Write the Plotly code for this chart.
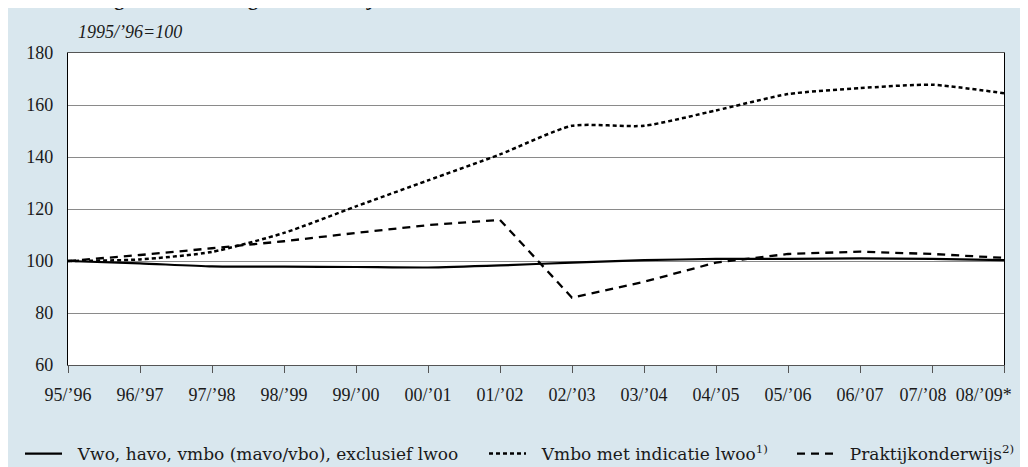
import plotly.graph_objects as go

categories = ["95/’96", "96/’97", "97/’98", "98/’99", "99/’00", "00/’01", "01/’02",
              "02/’03", "03/’04", "04/’05", "05/’06", "06/’07", "07/’08", "08/’09*"]

vwo_havo_vmbo = [100, 99.1, 97.9, 97.8, 97.7, 97.5, 98.3, 99.4, 100.3, 100.8, 100.8, 101.0, 100.8, 100.3]
vmbo_lwoo = [100, 100.6, 103.5, 110.8, 121, 131, 141, 152, 152, 157.9, 164.2, 166.5, 167.8, 164.5]
praktijk = [100, 102.3, 104.9, 107.6, 110.8, 113.8, 115.8, 85.9, 92.0, 99.4, 102.7, 103.6, 102.7, 101.2]

names = ["Vwo, havo, vmbo (mavo/vbo), exclusief lwoo",
         "Vmbo met indicatie lwoo<sup>1)</sup>",
         "Praktijkonderwijs<sup>2)</sup>"]

y_ticks = [60, 80, 100, 120, 140, 160, 180]

FONT = "Liberation Serif"
LEG_FONT = "DejaVu Serif"
BG = "#d9e7ee"
TXT = "#1a1a1a"
W, H = 1028, 467
ML, MR, MT, MB = 60, 32, 45, 110
PW, PH = W - ML - MR, H - MT - MB
PAD = "\u00a0\u00a0"
NB = "\u00a0"

# the last two labels sit a little to the left (kept inside the frame), as in the source
tick_text = list(categories)
tick_text[-2] = tick_text[-2] + NB * 4
tick_text[-1] = tick_text[-1] + NB * 9

fig = go.Figure()
fig.add_trace(go.Scatter(x=categories, y=vwo_havo_vmbo, name=PAD + names[0], mode="lines",
                         line=dict(color="#000000", width=2.2, shape="spline", smoothing=0.6),
                         legend="legend"))
fig.add_trace(go.Scatter(x=categories, y=vmbo_lwoo, name=PAD + names[1], mode="lines",
                         line=dict(color="#000000", width=2.5, dash="4px,3px", shape="spline", smoothing=0.6),
                         legend="legend2"))
fig.add_trace(go.Scatter(x=categories, y=praktijk, name=PAD + names[2], mode="lines",
                         line=dict(color="#000000", width=2.3, dash="8px,6px"),
                         legend="legend3"))

def px_x(px):
    return (px - ML) / PW

def px_y(py):
    return (H - MB - py) / PH

def cx(px):
    return px / W

def cy(py):
    return 1 - py / H

leg_common = dict(orientation="h", bgcolor="rgba(0,0,0,0)", borderwidth=0,
                  font=dict(family=LEG_FONT, size=17, color=TXT),
                  xref="container", yref="container", itemwidth=37,
                  xanchor="left", yanchor="middle", traceorder="normal")

fig.update_layout(
    width=W, height=H,
    margin=dict(l=ML, r=MR, t=MT, b=MB, autoexpand=False),
    paper_bgcolor=BG,
    plot_bgcolor="#ffffff",
    font=dict(family=FONT, size=18, color=TXT),
    xaxis=dict(type="category", range=[0, len(categories) - 1],
               tickmode="array", tickvals=categories, ticktext=tick_text, tickangle=0,
               showgrid=False, showline=True, linecolor="#555555", linewidth=1.3, mirror=True,
               ticks="outside", ticklen=7, tickcolor="#555555", tickwidth=1.3,
               tickfont=dict(family=FONT, size=18, color=TXT),
               ticklabelstandoff=6, zeroline=False, fixedrange=True),
    yaxis=dict(range=[60, 180], tickvals=y_ticks, showgrid=True, gridcolor="#8a8a8a", gridwidth=1.2,
               showline=True, linecolor="#000000", linewidth=1.3, mirror=True,
               ticks="", tickfont=dict(family=FONT, size=18, color=TXT),
               ticklabelstandoff=10, zeroline=False, fixedrange=True),
    legend=dict(x=cx(12), y=cy(446), **leg_common),
    legend2=dict(x=cx(476), y=cy(446), **leg_common),
    legend3=dict(x=cx(784), y=cy(446), **leg_common),
    showlegend=True,
)

# chart title, mostly above the visible frame (cut off as in the source)
fig.add_annotation(text="<b>3.1.1  Leerlingen in het voortgezet onderwijs</b>",
                   xref="paper", yref="paper", x=px_x(-8), y=px_y(4.5),
                   xanchor="left", yanchor="bottom", showarrow=False,
                   font=dict(family=FONT, size=20, color=TXT))

# index base note
fig.add_annotation(text="<i>1995/’96=100</i>", xref="paper", yref="paper",
                   x=px_x(68), y=px_y(24), xanchor="left", yanchor="middle",
                   showarrow=False, font=dict(family=FONT, size=18, color=TXT))

fig.write_html(
    "out.html",
    post_script="document.querySelectorAll('.main-svg').forEach(function(s){s.style.overflow='visible';});",
)
